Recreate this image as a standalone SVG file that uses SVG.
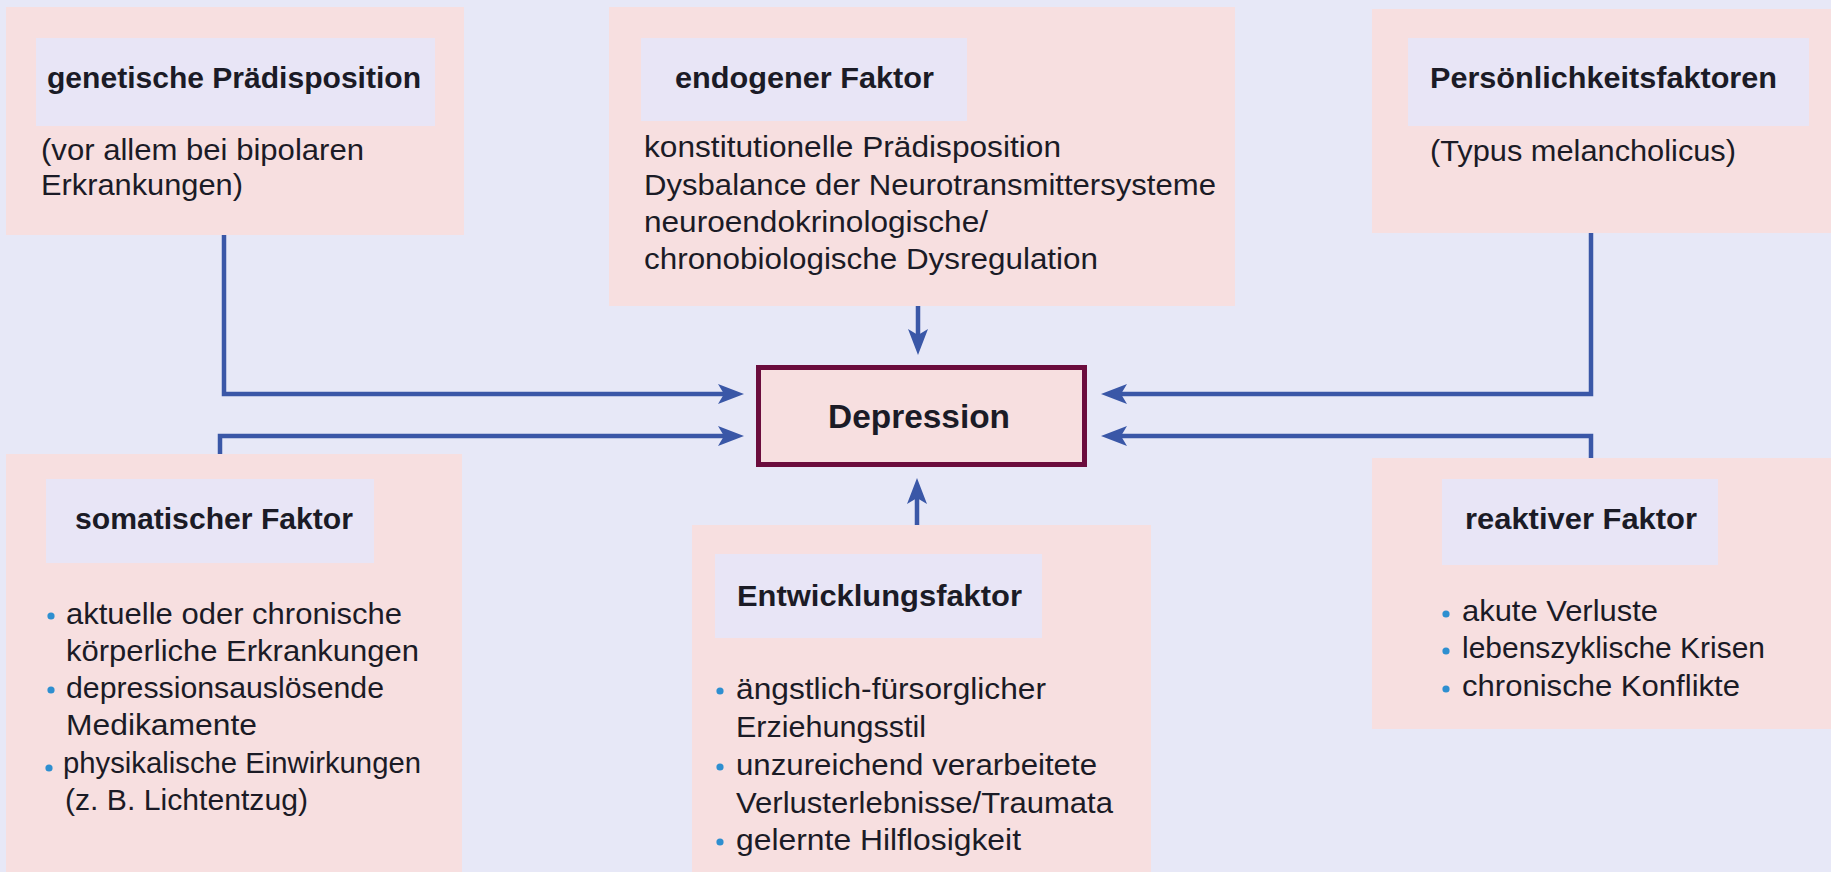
<svg xmlns="http://www.w3.org/2000/svg" width="1831" height="872" viewBox="0 0 1831 872">
<defs>
<marker id="arr" markerUnits="userSpaceOnUse" markerWidth="28" markerHeight="22" refX="18" refY="10" orient="auto">
<path d="M0,0 L26,10 L0,20 L6,10 Z" fill="#3a57a7"/>
</marker>
<style>
.bg{fill:#e7e8f7}
.box{fill:#f7dfe0}
.hdr{fill:#e8e5f6}
.t{font-family:"Liberation Sans",Arial,sans-serif;font-weight:bold;font-size:30px;fill:#1b1b26}
.b{font-family:"Liberation Sans",Arial,sans-serif;font-size:30px;fill:#1b1b26}
.dot{fill:#2e8fd0}
.con{fill:none;stroke:#3a57a7;stroke-width:4.5;marker-end:url(#arr)}
</style>
</defs>
<rect class="bg" x="0" y="0" width="1831" height="872"/>

<g id="connectors">
<path class="con" d="M224,235 V394 H736"/>
<path class="con" d="M220,454 V436 H736"/>
<path class="con" d="M918,306 V347"/>
<path class="con" d="M917,525 V486"/>
<path class="con" d="M1591,233 V394 H1109"/>
<path class="con" d="M1591,458 V436 H1109"/>
</g>

<g id="genetische">
<rect class="box" x="6" y="7" width="458" height="228"/>
<rect class="hdr" x="36" y="38" width="399" height="88"/>
<text class="t" x="47" y="88" textLength="374" lengthAdjust="spacingAndGlyphs">genetische Prädisposition</text>
<text class="b" x="41" y="160" textLength="323" lengthAdjust="spacingAndGlyphs">(vor allem bei bipolaren</text>
<text class="b" x="41" y="195" textLength="202" lengthAdjust="spacingAndGlyphs">Erkrankungen)</text>
</g>

<g id="endogen">
<rect class="box" x="609" y="7" width="626" height="299"/>
<rect class="hdr" x="641" y="38" width="326" height="83"/>
<text class="t" x="675" y="88" textLength="259" lengthAdjust="spacingAndGlyphs">endogener Faktor</text>
<text class="b" x="644" y="157" textLength="417" lengthAdjust="spacingAndGlyphs">konstitutionelle Prädisposition</text>
<text class="b" x="644" y="195" textLength="572" lengthAdjust="spacingAndGlyphs">Dysbalance der Neurotransmittersysteme</text>
<text class="b" x="644" y="232" textLength="344" lengthAdjust="spacingAndGlyphs">neuroendokrinologische/</text>
<text class="b" x="644" y="269" textLength="454" lengthAdjust="spacingAndGlyphs">chronobiologische Dysregulation</text>
</g>

<g id="persoenlichkeit">
<rect class="box" x="1372" y="9" width="459" height="224"/>
<rect class="hdr" x="1408" y="38" width="401" height="88"/>
<text class="t" x="1430" y="88" textLength="347" lengthAdjust="spacingAndGlyphs">Persönlichkeitsfaktoren</text>
<text class="b" x="1430" y="161" textLength="306" lengthAdjust="spacingAndGlyphs">(Typus melancholicus)</text>
</g>

<g id="depression">
<rect x="758.5" y="367.5" width="326" height="97" fill="#f7dfe0" stroke="#6b0c3d" stroke-width="5"/>
<text class="t" x="828" y="428" style="font-size:34px" textLength="182" lengthAdjust="spacingAndGlyphs">Depression</text>
</g>

<g id="somatisch">
<rect class="box" x="6" y="454" width="456" height="418"/>
<rect class="hdr" x="46" y="479" width="328" height="84"/>
<text class="t" x="75" y="529" textLength="278" lengthAdjust="spacingAndGlyphs">somatischer Faktor</text>
<circle class="dot" cx="51" cy="616" r="3.6"/>
<text class="b" x="66" y="624" textLength="336" lengthAdjust="spacingAndGlyphs">aktuelle oder chronische</text>
<text class="b" x="66" y="661" textLength="353" lengthAdjust="spacingAndGlyphs">körperliche Erkrankungen</text>
<circle class="dot" cx="51" cy="690" r="3.6"/>
<text class="b" x="66" y="698" textLength="318" lengthAdjust="spacingAndGlyphs">depressionsauslösende</text>
<text class="b" x="66" y="735" textLength="191" lengthAdjust="spacingAndGlyphs">Medikamente</text>
<circle class="dot" cx="49" cy="768" r="3.6"/>
<text class="b" x="63" y="773" textLength="358" lengthAdjust="spacingAndGlyphs">physikalische Einwirkungen</text>
<text class="b" x="65" y="810" textLength="243" lengthAdjust="spacingAndGlyphs">(z. B. Lichtentzug)</text>
</g>

<g id="entwicklung">
<rect class="box" x="692" y="525" width="459" height="347"/>
<rect class="hdr" x="715" y="554" width="327" height="84"/>
<text class="t" x="737" y="606" textLength="285" lengthAdjust="spacingAndGlyphs">Entwicklungsfaktor</text>
<circle class="dot" cx="720" cy="691" r="3.6"/>
<text class="b" x="736" y="699" textLength="310" lengthAdjust="spacingAndGlyphs">ängstlich-fürsorglicher</text>
<text class="b" x="736" y="737" textLength="190" lengthAdjust="spacingAndGlyphs">Erziehungsstil</text>
<circle class="dot" cx="720" cy="767" r="3.6"/>
<text class="b" x="736" y="775" textLength="361" lengthAdjust="spacingAndGlyphs">unzureichend verarbeitete</text>
<text class="b" x="736" y="813" textLength="377" lengthAdjust="spacingAndGlyphs">Verlusterlebnisse/Traumata</text>
<circle class="dot" cx="720" cy="842" r="3.6"/>
<text class="b" x="736" y="850" textLength="285" lengthAdjust="spacingAndGlyphs">gelernte Hilflosigkeit</text>
</g>

<g id="reaktiv">
<rect class="box" x="1372" y="458" width="459" height="271"/>
<rect class="hdr" x="1442" y="479" width="276" height="86"/>
<text class="t" x="1465" y="529" textLength="232" lengthAdjust="spacingAndGlyphs">reaktiver Faktor</text>
<circle class="dot" cx="1446" cy="614" r="3.6"/>
<text class="b" x="1462" y="621" textLength="196" lengthAdjust="spacingAndGlyphs">akute Verluste</text>
<circle class="dot" cx="1446" cy="651" r="3.6"/>
<text class="b" x="1462" y="658" textLength="303" lengthAdjust="spacingAndGlyphs">lebenszyklische Krisen</text>
<circle class="dot" cx="1446" cy="689" r="3.6"/>
<text class="b" x="1462" y="696" textLength="278" lengthAdjust="spacingAndGlyphs">chronische Konflikte</text>
</g>
</svg>
